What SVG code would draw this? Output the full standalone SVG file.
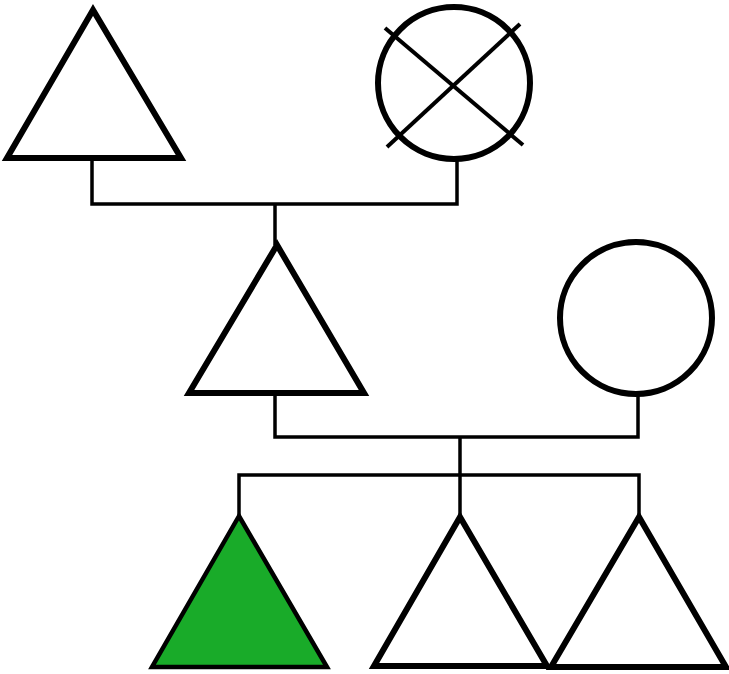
<svg xmlns="http://www.w3.org/2000/svg" width="729" height="674" viewBox="0 0 729 674">
<style>
.shape{fill:#fff;stroke:#000;stroke-width:6;stroke-linejoin:miter}
.aff{fill:#19ab29;stroke:#000;stroke-width:4.5}
.cross{stroke:#000;stroke-width:4;fill:none}
.conn{fill:none;stroke:#000;stroke-width:3.5}
</style>
<rect width="729" height="674" fill="#fff"/>
<g id="connectors">
<polyline class="conn" points="92,158 92,204 457,204 457,160"/>
<line class="conn" x1="275" y1="204" x2="275" y2="245"/>
<polyline class="conn" points="275,394 275,437 638,437 638,395"/>
<line class="conn" x1="460" y1="437" x2="460" y2="516"/>
<polyline class="conn" points="239,517 239,475 639,475 639,517"/>
</g>
<g id="grandfather"><polygon class="shape" points="93,10 7,158 181,158"/></g>
<g id="grandmother">
<circle class="shape" cx="454" cy="83" r="76"/>
<line class="cross" x1="385" y1="28" x2="523" y2="145"/>
<line class="cross" x1="520" y1="24" x2="387" y2="147"/>
</g>
<g id="father"><polygon class="shape" points="277,245 189,393 364,393"/></g>
<g id="mother"><circle class="shape" cx="636" cy="318" r="76"/></g>
<g id="child1"><polygon class="aff" points="239,516 152,667 327,667"/></g>
<g id="child2"><polygon class="shape" points="460,517 374,666 547,666"/></g>
<g id="child3"><polygon class="shape" points="639,517 551,667 726,667"/></g>
</svg>
